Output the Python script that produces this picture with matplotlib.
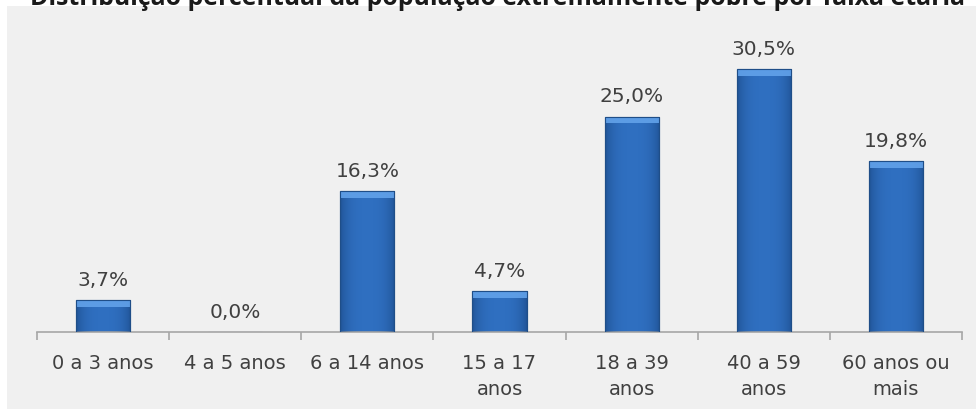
import matplotlib
matplotlib.use("Agg")
import matplotlib.pyplot as plt
import numpy as np
from matplotlib.patches import Rectangle

categories = ["0 a 3 anos", "4 a 5 anos", "6 a 14 anos", "15 a 17\nanos",
              "18 a 39\nanos", "40 a 59\nanos", "60 anos ou\nmais"]
values = [3.7, 0.0, 16.3, 4.7, 25.0, 30.5, 19.8]
value_labels = ["3,7%", "0,0%", "16,3%", "4,7%", "25,0%", "30,5%", "19,8%"]
title = "Distribuição percentual da população extremamente pobre por faixa etária"

W, H = 976, 410
PX_PER_UNIT = 8.62
fig = plt.figure(figsize=(W / 100, H / 100), dpi=100, facecolor="white")
fig.patches.append(Rectangle((7 / W, 0), 1, 1 - 7 / H, transform=fig.transFigure,
                             facecolor="#f0f0f0", edgecolor="none", zorder=-10))

cat_fam = ["DejaVu Sans"]
val_fam = ["DejaVu Sans"]
ax = fig.add_axes([37 / W, 1 - 333 / H, (962 - 37) / W, (333 - 30) / H])
ax.set_zorder(5)
ax.set_facecolor("none")
x = np.arange(len(categories))
bars = ax.bar(x, values, width=0.41, color="#2f6fc0", edgecolor="#1f4e88",
              linewidth=0.8, zorder=2)

# gradient shading inside bars
grad = np.linspace(0, 1, 64)
shade = np.abs(grad - 0.5) * 2
cmapcols = np.zeros((1, 64, 4))
for i, s in enumerate(shade):
    cmapcols[0, i] = (0.10, 0.27, 0.50, 0.6 * s ** 3)
for b in bars:
    h = b.get_height()
    if h <= 0:
        continue
    bx, bw = b.get_x(), b.get_width()
    im = ax.imshow(cmapcols, extent=(bx, bx + bw, 0, h), aspect="auto", zorder=3)
    im.set_clip_path(b)
    cap = min(0.8, h * 0.3)
    ax.add_patch(Rectangle((bx, h - cap), bw, cap, facecolor="#62a2ea",
                           edgecolor="none", alpha=0.9, zorder=4))
    ax.add_patch(Rectangle((bx, 0), bw, h, facecolor="none",
                           edgecolor="#1f4e88", linewidth=0.8, zorder=5))

for xi, v, lab in zip(x, values, value_labels):
    ax.text(xi, v + 15 / PX_PER_UNIT, lab, ha="center", va="baseline", fontsize=14.5,
            color="#404040", family=val_fam)

ax.set_xlim(-0.5, len(categories) - 0.5)
ax.set_ylim(0, (333 - 30) / PX_PER_UNIT)
ax.set_yticks([])
for s in ["top", "right", "left"]:
    ax.spines[s].set_visible(False)
ax.spines["bottom"].set_color("#a6a6a6")
ax.spines["bottom"].set_linewidth(1.2)
ax.set_xticks(np.arange(len(categories) + 1) - 0.5, minor=True)
ax.tick_params(axis="x", which="minor", length=6, color="#a6a6a6", width=1.2)
ax.set_xticks(x)
ax.set_xticklabels(categories, fontsize=14, color="#404040", family=cat_fam,
                   linespacing=1.45)
ax.tick_params(axis="x", which="major", length=0, pad=15)

fig.text(498 / W, 1 - 5 / H, title, ha="center", va="baseline", fontsize=17.9,
         fontweight="bold", color="#1a1a1a", family=["Open Sans", "DejaVu Sans"], zorder=10)

fig.savefig("out.png", dpi=100, facecolor="white")
